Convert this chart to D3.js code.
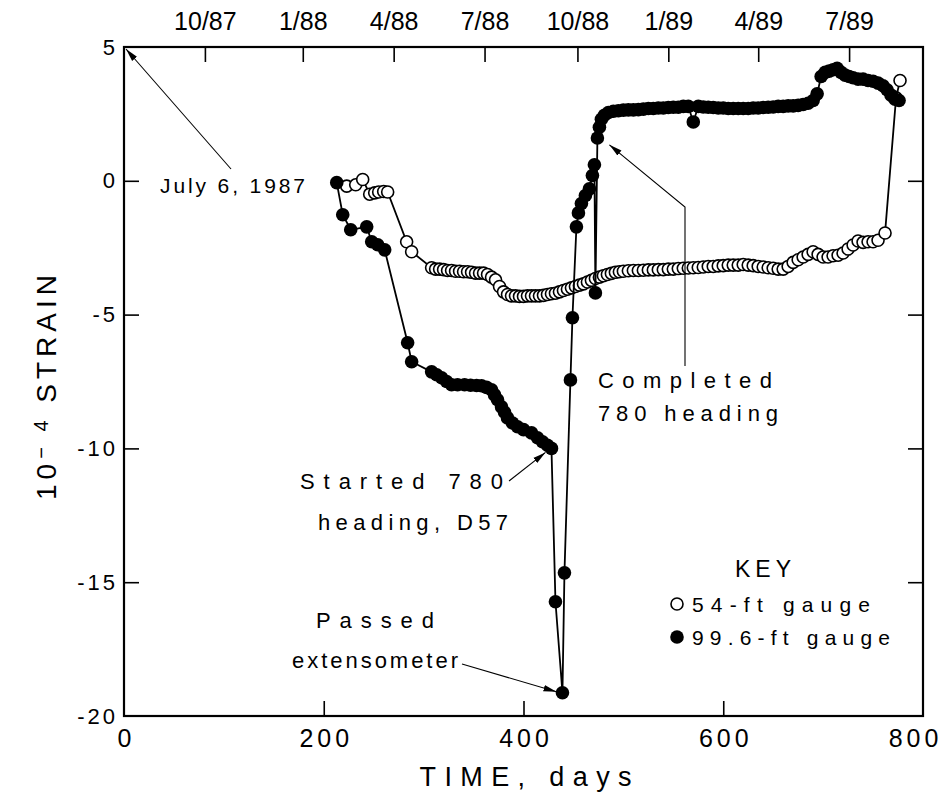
<!DOCTYPE html>
<html>
<head>
<meta charset="utf-8">
<script src="https://cdn.jsdelivr.net/npm/d3@7/dist/d3.min.js"></script>
<style>
  html, body { margin: 0; padding: 0; background: #fff; }
  svg { display: block; }
  text { font-family: "Liberation Sans", Arial, Helvetica, sans-serif; fill: #000; }
</style>
</head>
<body>
<svg id="chart" width="951" height="797"></svg>
<script>
// Extensometer readings: elapsed days since July 6, 1987, strain in 10^-4
const days54 = [223, 232, 239, 246, 251, 255, 260, 264, 283, 288,
  308, 312, 316, 320, 324, 328, 332, 336, 340, 344, 348, 352, 356, 360, 364, 368, 372,
  376, 380, 384, 388, 392, 396, 400, 404, 408, 412, 416, 420, 424, 428, 432, 436, 440,
  444, 448, 452, 456, 460, 464, 468, 472, 476, 480, 484, 488, 492, 496, 500, 505, 510,
  515, 520, 525, 530, 535, 540, 545, 550, 555, 560, 565, 570, 575, 580, 585, 590, 595,
  600, 605, 610, 615, 620, 625, 630, 635, 640, 645, 650, 655, 660, 665, 670, 675, 680,
  685, 690, 695, 700, 705, 710, 715, 720, 725, 730, 735, 740, 745, 750, 755, 762, 773, 777];
const strain54 = [-0.2, -0.15, 0.05, -0.5, -0.45, -0.42, -0.4, -0.42, -2.28, -2.65,
  -3.25, -3.3, -3.3, -3.32, -3.35, -3.35, -3.38, -3.38, -3.4, -3.4, -3.42, -3.45, -3.45, -3.45, -3.5, -3.6, -3.7,
  -3.95, -4.15, -4.25, -4.3, -4.3, -4.32, -4.32, -4.3, -4.3, -4.3, -4.3, -4.28, -4.25, -4.22, -4.2, -4.15, -4.1,
  -4.05, -4.0, -3.95, -3.9, -3.85, -3.78, -3.72, -3.65, -3.6, -3.55, -3.5, -3.46, -3.42, -3.4, -3.38, -3.36, -3.35,
  -3.35, -3.34, -3.33, -3.33, -3.32, -3.32, -3.3, -3.3, -3.28, -3.27, -3.26, -3.25, -3.24, -3.22, -3.2, -3.2, -3.18,
  -3.17, -3.15, -3.15, -3.15, -3.13, -3.15, -3.17, -3.2, -3.22, -3.25, -3.27, -3.3, -3.3, -3.2, -3.05, -2.95, -2.85,
  -2.75, -2.65, -2.75, -2.85, -2.85, -2.8, -2.78, -2.7, -2.55, -2.4, -2.25, -2.3, -2.28, -2.28, -2.22, -1.95, 3.1, 3.75];

const days996 = [213, 219, 227, 243, 248, 254, 261, 284, 288,
  308, 313, 318, 323, 328, 334, 341, 347, 353, 358, 363, 368, 371, 374, 378, 381, 384,
  389, 394, 400, 408, 414, 419, 424, 428, 432, 439, 441, 447, 449, 453, 455, 458, 462,
  466, 469, 471, 472, 474, 476, 478, 481, 485, 490, 495, 500, 505, 510, 515, 520, 525,
  530, 535, 540, 545, 550, 555, 560, 565, 570, 575, 580, 585, 590, 595, 600, 605, 610,
  615, 620, 625, 630, 635, 640, 645, 650, 655, 660, 665, 670, 675, 680, 685, 690, 694,
  698, 702, 706, 710, 714, 718, 722, 726, 730, 735, 740, 745, 750, 755, 760, 764, 768, 772, 776];
const strain996 = [-0.07, -1.27, -1.83, -1.72, -2.28, -2.39, -2.58, -6.05, -6.76,
  -7.14, -7.25, -7.36, -7.5, -7.62, -7.62, -7.62, -7.64, -7.65, -7.66, -7.72, -7.81, -8.0, -8.18, -8.45, -8.65, -8.86,
  -9.05, -9.19, -9.3, -9.42, -9.6, -9.75, -9.88, -10.0, -15.73, -19.13, -14.65, -7.44, -5.12, -1.72, -1.2, -0.85, -0.55,
  -0.3, 0.2, 0.6, -4.19, 1.6, 2.0, 2.3, 2.45, 2.55, 2.6, 2.62, 2.64, 2.65, 2.65, 2.66, 2.68, 2.7,
  2.7, 2.72, 2.72, 2.74, 2.75, 2.75, 2.78, 2.78, 2.2, 2.78, 2.76, 2.75, 2.74, 2.72, 2.72, 2.7, 2.7,
  2.7, 2.7, 2.7, 2.72, 2.72, 2.74, 2.75, 2.76, 2.78, 2.78, 2.8, 2.8, 2.82, 2.85, 2.9, 3.0, 3.25,
  3.9, 4.05, 4.1, 4.15, 4.2, 4.05, 3.95, 3.9, 3.85, 3.8, 3.8, 3.75, 3.72, 3.65, 3.55, 3.4, 3.2, 3.05, 3.0];

// Calendar quarters along the top edge
const quarterLabels = ["10/87", "1/88", "4/88", "7/88", "10/88", "1/89", "4/89", "7/89"];
const quarterDays = [81, 179, 270, 361, 454, 545, 635, 726];

const dayTicks = [0, 200, 400, 600, 800];
const strainTicks = [5, 0, -5, -10, -15, -20];
const seriesNames = ["54-ft gauge", "99.6-ft gauge"];

const svg = d3.select("#chart");
svg.append("rect").attr("width", 951).attr("height", 797).attr("fill", "#fff");

const plotL = 124, plotR = 923, plotT = 47, plotB = 716;
const x = d3.scaleLinear().domain([0, 800]).range([plotL, plotR]);
const y = d3.scaleLinear().domain([-20, 5]).range([plotB, plotT]);

const defs = svg.append("defs");
defs.append("marker")
  .attr("id", "head")
  .attr("markerUnits", "userSpaceOnUse")
  .attr("markerWidth", 14).attr("markerHeight", 8)
  .attr("refX", 13).attr("refY", 4)
  .attr("orient", "auto")
  .append("path").attr("d", "M0,0.8 L13,4 L0,7.2 Z").attr("fill", "#000");

// Axes: inward ticks on all four sides
const tickLen = 15;
const gBottom = svg.append("g").attr("transform", `translate(0,${plotB})`)
  .call(d3.axisBottom(x).tickValues(dayTicks).tickSizeInner(-tickLen).tickSizeOuter(0).tickPadding(20));
const gLeft = svg.append("g").attr("transform", `translate(${plotL},0)`)
  .call(d3.axisLeft(y).tickValues(strainTicks).tickSizeInner(-tickLen).tickSizeOuter(0).tickPadding(6)
    .tickFormat(d => String(d)));
const gRight = svg.append("g").attr("transform", `translate(${plotR},0)`)
  .call(d3.axisRight(y).tickValues(strainTicks.slice(1, -1)).tickSizeInner(-tickLen).tickSizeOuter(0).tickFormat(""));
const quarterScale = d3.scaleOrdinal().domain(quarterLabels).range(quarterDays.map(x));
const gTop = svg.append("g").attr("transform", `translate(0,${plotT})`)
  .call(d3.axisTop(quarterScale).tickSizeInner(-tickLen).tickSizeOuter(0).tickPadding(18));

[gBottom, gLeft, gRight, gTop].forEach(g => {
  g.select(".domain").remove();
  g.selectAll(".tick line").attr("stroke", "#000").attr("stroke-width", 1.6);
  g.selectAll("text").attr("fill", "#000").attr("font-family", null);
});
gBottom.selectAll(".tick line").filter(d => d === 0 || d === 800).remove();
gLeft.selectAll(".tick line").filter(d => d === 5 || d === -20).remove();
gBottom.selectAll("text").attr("font-size", 25).attr("letter-spacing", 4)
  .attr("dx", d => d === 800 ? -8 : 2)
  .attr("dy", "0.45em");
gLeft.selectAll("text").attr("font-size", 22).attr("letter-spacing", 3);
gTop.selectAll("text").attr("font-size", 25).attr("dy", "0.05em");

svg.append("rect")
  .attr("x", plotL).attr("y", plotT).attr("width", plotR - plotL).attr("height", plotB - plotT)
  .attr("fill", "none").attr("stroke", "#000").attr("stroke-width", 2.2);

// Axis titles
svg.append("text")
  .attr("x", (plotL + plotR) / 2 + 2).attr("y", 786)
  .attr("text-anchor", "middle").attr("font-size", 27)
  .attr("textLength", 212).attr("lengthAdjust", "spacing")
  .text("TIME, days");

const yTitle = svg.append("text")
  .attr("transform", "translate(56,385) rotate(-90)")
  .attr("text-anchor", "middle").attr("font-size", 28).attr("letter-spacing", 5);
yTitle.append("tspan").text("10");
yTitle.append("tspan").attr("font-size", 20).attr("baseline-shift", "40%").text("\u2212 4");
yTitle.append("tspan").text(" STRAIN");

// Data series
const pts54 = days54.map((d, i) => [d, strain54[i]]);
const pts996 = days996.map((d, i) => [d, strain996[i]]);
const line = d3.line().x(d => x(d[0])).y(d => y(d[1]));

svg.append("path").datum(pts54).attr("d", line)
  .attr("fill", "none").attr("stroke", "#000").attr("stroke-width", 1.8);
svg.append("g").selectAll("circle").data(pts54).join("circle")
  .attr("cx", d => x(d[0])).attr("cy", d => y(d[1])).attr("r", 6)
  .attr("fill", "#fff").attr("stroke", "#000").attr("stroke-width", 1.6);

svg.append("path").datum(pts996).attr("d", line)
  .attr("fill", "none").attr("stroke", "#000").attr("stroke-width", 1.8);
svg.append("g").selectAll("circle").data(pts996).join("circle")
  .attr("cx", d => x(d[0])).attr("cy", d => y(d[1])).attr("r", 6.8)
  .attr("fill", "#000");

// Annotations
function label(txt, xPos, yPos, width, size) {
  svg.append("text").attr("x", xPos).attr("y", yPos)
    .attr("font-size", size || 22)
    .attr("textLength", width).attr("lengthAdjust", "spacing")
    .text(txt);
}
function arrow(points) {
  svg.append("path")
    .attr("d", d3.line()(points))
    .attr("fill", "none").attr("stroke", "#000").attr("stroke-width", 1.1)
    .attr("marker-end", "url(#head)");
}

label("July 6, 1987", 160, 193, 145, 21);
arrow([[231, 169], [x(0) + 2, y(5) + 2]]);

label("Started 780", 300, 489, 203);
label("heading, D57", 318, 530, 190);
arrow([[509, 481], [x(428) - 6, y(-10) + 4]]);

label("Passed", 316, 628, 118);
label("extensometer", 292, 668, 166);
arrow([[462, 664], [x(439) - 6, y(-19.13) - 1]]);

label("Completed", 598, 388, 174);
label("780 heading", 598, 421, 180);
arrow([[685, 366], [685, 207], [x(482) + 4, y(1.42) + 2]]);

// Key
svg.append("text").attr("x", 735).attr("y", 577).attr("font-size", 23)
  .attr("textLength", 56).attr("lengthAdjust", "spacing").text("KEY");
svg.append("circle").attr("cx", 677).attr("cy", 604).attr("r", 6)
  .attr("fill", "#fff").attr("stroke", "#000").attr("stroke-width", 1.6);
svg.append("circle").attr("cx", 677).attr("cy", 637).attr("r", 6.8).attr("fill", "#000");
label(seriesNames[0], 692, 612, 178, 21);
label(seriesNames[1], 692, 645, 198, 21);
</script>
</body>
</html>
